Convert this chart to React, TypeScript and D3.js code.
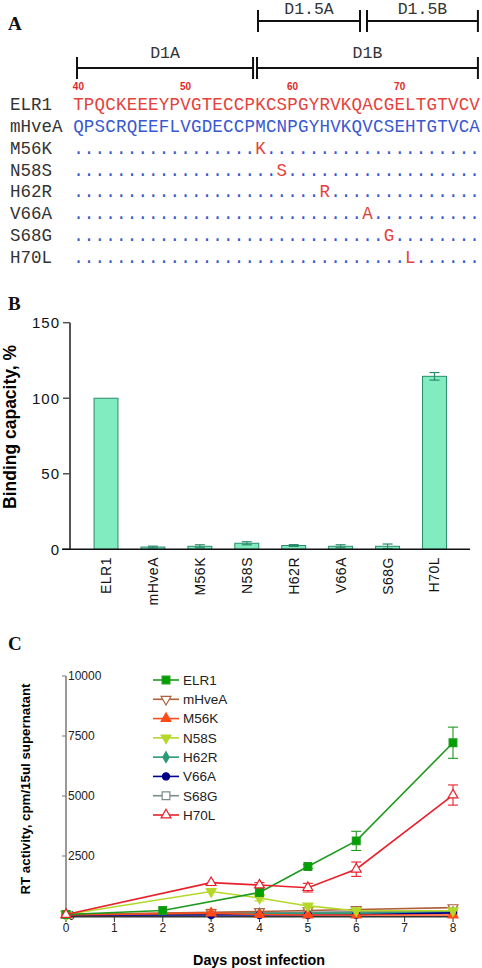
import React from "react";
import * as d3 from "d3";

const W = 482;
const H = 968;

// ---------- Panel A data ----------
const residueFirst = 40;
const residueLast = 77;
const residueTicks = [40, 50, 60, 70];
const bracketLabels = ["D1.5A", "D1.5B", "D1A", "D1B"];
const bracketFrom = [56.77, 66.95, 39.87, 56.68];
const bracketTo = [66.3, 77.31, 56.31, 77.31];
const bracketRow = [0, 0, 1, 1];
const rowNames = ["ELR1", "mHveA", "M56K", "N58S", "H62R", "V66A", "S68G", "H70L"];
const elr1Seq = "TPQCKEEEYPVGTECCPKCSPGYRVKQACGELTGTVCV";
const mhveaSeq = "QPSCRQEEFLVGDECCPMCNPGYHVKQVCSEHTGTVCA";
const mutantPos = [57, 59, 63, 67, 69, 71];
const mutantAA = ["K", "S", "R", "A", "G", "L"];

// ---------- Panel B data ----------
const bindCats = ["ELR1", "mHveA", "M56K", "N58S", "H62R", "V66A", "S68G", "H70L"];
const bindVals = [100, 1.5, 2, 4, 2.5, 2, 2, 114.5];
const bindErr = [0, 0.6, 1, 1, 0.6, 1, 1.5, 2.5];
const bindTicks = [0, 50, 100, 150];

// ---------- Panel C data ----------
const rtNames = ["ELR1", "mHveA", "M56K", "N58S", "H62R", "V66A", "S68G", "H70L"];
const rtDaysElr1 = [0, 2, 4, 5, 6, 8];
const rtDaysOther = [0, 3, 4, 5, 6, 8];
const rtElr1 = [60, 230, 980, 2060, 3130, 7220];
const rtElr1Err = [0, 0, 0, 80, 400, 650];
const rtMhvea = [60, 150, 190, 230, 270, 350];
const rtM56k = [40, 120, 60, 40, 40, 40];
const rtN58s = [60, 1020, 750, 420, 220, 220];
const rtN58sErr = [0, 0, 120, 80, 0, 0];
const rtH62r = [60, 80, 100, 110, 120, 160];
const rtV66a = [30, 40, 40, 40, 50, 130];
const rtS68g = [60, 120, 130, 150, 170, 200];
const rtH70l = [60, 1390, 1290, 1180, 1950, 5040];
const rtH70lErr = [0, 0, 100, 180, 300, 420];
const rtYTicks = [0, 2500, 5000, 7500, 10000];
const rtXTicks = [0, 1, 2, 3, 4, 5, 6, 7, 8];

const seriesColor = ["#1e9a1e", "#b0603a", "#ff4a1a", "#b4d82a", "#2a9a78", "#00008b", "#7a8c8c", "#e8202a"];
const seriesFill = ["#00a000", "#ffffff", "#ff4a1a", "#b4d82a", "#2a9a78", "#00008b", "#ffffff", "#ffffff"];
const seriesSymbol = ["square", "triDown", "triUp", "triDown", "diamond", "circle", "square", "triUp"];

const SANS = "Arial, 'Liberation Sans', sans-serif";
const MONO = "'Liberation Mono', 'Courier New', monospace";
const SERIF = "'Liberation Serif', 'Times New Roman', serif";

const RED = "#e4423c";
const BLUE = "#3a58d0";

function symbolPath(kind: string): string {
  const gen = d3.symbol();
  if (kind === "square") return gen.type(d3.symbolSquare).size(60)() as string;
  if (kind === "triUp" || kind === "triDown") return gen.type(d3.symbolTriangle).size(42)() as string;
  if (kind === "diamond") return gen.type(d3.symbolDiamond).size(34)() as string;
  return gen.type(d3.symbolCircle).size(40)() as string;
}

function Marker({ x, y, i }: { x: number; y: number; i: number }) {
  const kind = seriesSymbol[i];
  const rot = kind === "triDown" ? 180 : 0;
  return (
    <path
      d={symbolPath(kind)}
      transform={`translate(${x},${y}) rotate(${rot})`}
      fill={seriesFill[i]}
      stroke={seriesColor[i]}
      strokeWidth={1.2}
    />
  );
}

function PanelA() {
  const xSeq = d3.scaleLinear().domain([residueFirst, residueLast]).range([78.4, 474.6]);
  const bracketY = [21, 68];
  const labelOffset = [7, 10];
  const rowY = d3.scaleLinear().domain([0, 7]).range([110, 263]);
  const fs = 17.5;
  const rows: { name: string; chars: { c: string; col: string }[] }[] = [];
  rows.push({ name: rowNames[0], chars: elr1Seq.split("").map((c) => ({ c, col: RED })) });
  rows.push({ name: rowNames[1], chars: mhveaSeq.split("").map((c) => ({ c, col: BLUE })) });
  mutantPos.forEach((p, k) => {
    const chars = mhveaSeq.split("").map((_, i) =>
      i + residueFirst === p ? { c: mutantAA[k], col: RED } : { c: ".", col: BLUE }
    );
    rows.push({ name: rowNames[k + 2], chars });
  });
  return (
    <g>
      <text x={8} y={30} fontFamily={SERIF} fontWeight="bold" fontSize={19} fill="#111">A</text>
      {bracketLabels.map((lab, i) => {
        const x1 = xSeq(bracketFrom[i]);
        const x2 = xSeq(bracketTo[i]);
        const y = bracketY[bracketRow[i]];
        return (
          <g key={lab}>
            <line x1={x1} x2={x2} y1={y} y2={y} stroke="#111" strokeWidth={2} />
            <line x1={x1} x2={x1} y1={y - 11} y2={y + 11} stroke="#111" strokeWidth={2} />
            <line x1={x2} x2={x2} y1={y - 11} y2={y + 11} stroke="#111" strokeWidth={2} />
            <text x={(x1 + x2) / 2} y={y - labelOffset[bracketRow[i]]} textAnchor="middle" fontFamily={MONO} fontSize={16.5} fill="#333">{lab}</text>
          </g>
        );
      })}
      {residueTicks.map((t) => (
        <text key={t} x={xSeq(t)} y={90} textAnchor="middle" fontFamily={SANS} fontWeight="bold" fontSize={10} fill="#e02828">{t}</text>
      ))}
      {rows.map((r, ri) => (
        <g key={r.name}>
          <text x={10} y={rowY(ri)} fontFamily={MONO} fontSize={fs} fill="#333">{r.name}</text>
          {r.chars.map((ch, i) => (
            <text key={i} x={xSeq(residueFirst + i)} y={rowY(ri)} textAnchor="middle" fontFamily={MONO} fontSize={fs} fill={ch.col}>{ch.c}</text>
          ))}
        </g>
      ))}
    </g>
  );
}

function PanelB() {
  const y = d3.scaleLinear().domain([0, 150]).range([549.3, 322.7]);
  const x = d3.scaleBand<string>().domain(bindCats).range([82.55, 457.95]).paddingInner(0.49).paddingOuter(0.245);
  const bw = x.bandwidth();
  const barFill = "#80ecc0";
  const barStroke = "#2a8c6a";
  return (
    <g>
      <text x={8} y={310} fontFamily={SERIF} fontWeight="bold" fontSize={19} fill="#111">B</text>
      <text transform="translate(16,427) rotate(-90)" textAnchor="middle" fontFamily={SANS} fontWeight="bold" fontSize={17.5} fill="#000">Binding capacity, %</text>
      {bindCats.map((c, i) => {
        const x0 = x(c) as number;
        const v = bindVals[i];
        const e = bindErr[i];
        const cx = x0 + bw / 2;
        return (
          <g key={c}>
            <rect x={x0} y={y(v)} width={bw} height={y(0) - y(v)} fill={barFill} stroke={barStroke} strokeWidth={1} />
            {e > 0 && (
              <g stroke={barStroke} strokeWidth={1.2}>
                <line x1={cx} x2={cx} y1={y(v + e)} y2={y(v - e)} />
                <line x1={cx - 5} x2={cx + 5} y1={y(v + e)} y2={y(v + e)} />
                <line x1={cx - 5} x2={cx + 5} y1={y(v - e)} y2={y(v - e)} />
              </g>
            )}
            <text transform={`translate(${cx + 5},557) rotate(-90)`} textAnchor="end" fontFamily={SANS} fontSize={14} fill="#111" letterSpacing={0.5}>{c}</text>
          </g>
        );
      })}
      <line x1={70} x2={70} y1={y(150)} y2={y(0)} stroke="#555" strokeWidth={2} />
      {bindTicks.map((t) => (
        <g key={t}>
          <line x1={63} x2={70} y1={y(t)} y2={y(t)} stroke="#555" strokeWidth={1.5} />
          <text x={60} y={y(t)} dy="0.36em" textAnchor="end" fontFamily={SANS} fontSize={15} letterSpacing={1} fill="#111">{t}</text>
        </g>
      ))}
      <line x1={62} x2={470} y1={y(0)} y2={y(0)} stroke="#111" strokeWidth={1.5} />
    </g>
  );
}

function PanelC() {
  const x = d3.scaleLinear().domain([0, 8]).range([66, 453]);
  const y = d3.scaleLinear().domain([0, 10000]).range([916, 676]);
  const series = [
    { days: rtDaysElr1, vals: rtElr1, err: rtElr1Err },
    { days: rtDaysOther, vals: rtMhvea, err: null },
    { days: rtDaysOther, vals: rtM56k, err: null },
    { days: rtDaysOther, vals: rtN58s, err: rtN58sErr },
    { days: rtDaysOther, vals: rtH62r, err: null },
    { days: rtDaysOther, vals: rtV66a, err: null },
    { days: rtDaysOther, vals: rtS68g, err: null },
    { days: rtDaysOther, vals: rtH70l, err: rtH70lErr },
  ];
  const drawOrder = [6, 1, 4, 5, 2, 3, 0, 7];
  const line = d3.line<[number, number]>().x((d) => x(d[0])).y((d) => y(d[1]));
  const legendY = d3.scaleLinear().domain([0, 7]).range([680, 815]);
  return (
    <g>
      <text x={8} y={650} fontFamily={SERIF} fontWeight="bold" fontSize={19} fill="#111">C</text>
      <text transform="translate(29.5,789) rotate(-90)" textAnchor="middle" fontFamily={SANS} fontWeight="bold" fontSize={13.3} fill="#000">RT activity, cpm/15ul supernatant</text>
      <text x={259} y={965} textAnchor="middle" fontFamily={SANS} fontWeight="bold" fontSize={14.3} fill="#000">Days post infection</text>
      {/* axes */}
      <line x1={66} x2={66} y1={y(10000)} y2={y(0)} stroke="#777" strokeWidth={1.5} />
      {rtYTicks.map((t) => (
        <g key={t}>
          <line x1={62} x2={66} y1={y(t)} y2={y(t)} stroke="#777" strokeWidth={1} />
          <text x={68} y={y(t)} dy="0.36em" fontFamily={SANS} fontSize={12} fill="#222">{t}</text>
        </g>
      ))}
      <line x1={66} x2={456} y1={916.7} y2={916.7} stroke="#333" strokeWidth={1.5} />
      {rtXTicks.map((t) => (
        <g key={t}>
          <line x1={x(t)} x2={x(t)} y1={916.7} y2={922} stroke="#333" strokeWidth={1} />
          <text x={x(t)} y={932} textAnchor="middle" fontFamily={SANS} fontSize={12} fill="#222">{t}</text>
        </g>
      ))}
      {/* series */}
      {drawOrder.map((i) => {
        const s = series[i];
        const pts = s.days.map((d, k) => [d, s.vals[k]] as [number, number]);
        return (
          <g key={rtNames[i]}>
            <path d={line(pts) as string} fill="none" stroke={seriesColor[i]} strokeWidth={1.6} />
            {s.err &&
              s.days.map((d, k) => {
                const e = (s.err as number[])[k];
                if (!e) return null;
                const cx = x(d);
                const v = s.vals[k];
                return (
                  <g key={k} stroke={seriesColor[i]} strokeWidth={1.1}>
                    <line x1={cx} x2={cx} y1={y(v + e)} y2={y(v - e)} />
                    <line x1={cx - 5} x2={cx + 5} y1={y(v + e)} y2={y(v + e)} />
                    <line x1={cx - 5} x2={cx + 5} y1={y(v - e)} y2={y(v - e)} />
                  </g>
                );
              })}
            {pts.map((p, k) => (
              <Marker key={k} x={x(p[0])} y={y(p[1])} i={i} />
            ))}
          </g>
        );
      })}
      {/* legend */}
      {rtNames.map((n, i) => (
        <g key={n}>
          <line x1={153} x2={179} y1={legendY(i)} y2={legendY(i)} stroke={seriesColor[i]} strokeWidth={1.6} />
          <Marker x={166} y={legendY(i)} i={i} />
          <text x={183} y={legendY(i)} dy="0.36em" fontFamily={SANS} fontSize={13.5} fill="#222">{n}</text>
        </g>
      ))}
    </g>
  );
}

export default function App() {
  return (
    <svg
      width={W}
      height={H}
      viewBox={`0 0 ${W} ${H}`}
      style={{ position: "absolute", left: 0, top: 0, background: "#fff" }}
    >
      <rect width={W} height={H} fill="#fff" />
      <PanelA />
      <PanelB />
      <PanelC />
    </svg>
  );
}
